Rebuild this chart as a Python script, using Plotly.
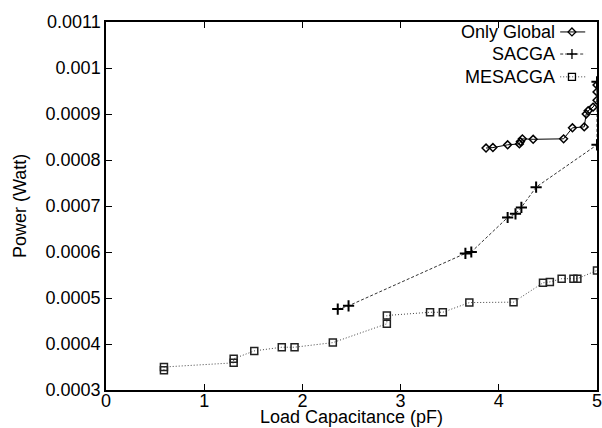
import plotly.graph_objects as go

# Only Global
og_x = [3.87, 3.94, 4.09, 4.21, 4.22, 4.24, 4.35, 4.66, 4.75, 4.87, 4.89, 4.91, 4.96, 5.0, 5.0, 5.0]
og_y = [0.000826, 0.000827, 0.000833, 0.000835, 0.00084, 0.000846, 0.000845, 0.000846,
        0.00087, 0.000872, 0.0009, 0.000907, 0.000915, 0.00093, 0.000948, 0.000963]

# SACGA
sa_x = [2.36, 2.47, 3.66, 3.72, 4.09, 4.17, 4.23, 4.38, 5.0, 5.0]
sa_y = [0.000476, 0.000483, 0.000597, 0.0006, 0.000675, 0.000683, 0.000697, 0.000741,
        0.000833, 0.00097]

# MESACGA
me_x = [0.59, 0.59, 1.30, 1.30, 1.51, 1.79, 1.92, 2.31, 2.86, 2.86, 3.30, 3.43, 3.70,
        4.15, 4.45, 4.52, 4.64, 4.76, 4.80, 5.0]
me_y = [0.000343, 0.00035, 0.000359, 0.000368, 0.000385, 0.000393, 0.000393, 0.000403,
        0.000444, 0.000462, 0.000469, 0.000469, 0.00049, 0.000491, 0.000533, 0.000535,
        0.000542, 0.000542, 0.000542, 0.00056]

x_ticks = [0, 1, 2, 3, 4, 5]
x_labels = ["0", "1", "2", "3", "4", "5"]
y_ticks = [0.0003, 0.0004, 0.0005, 0.0006, 0.0007, 0.0008, 0.0009, 0.001, 0.0011]
y_labels = ["0.0003", "0.0004", "0.0005", "0.0006", "0.0007", "0.0008", "0.0009", "0.001", "0.0011"]

names = ["Only Global", "SACGA", "MESACGA"]
FONT = "Liberation Sans, Arial, Helvetica, sans-serif"

fig = go.Figure()
fig.add_trace(go.Scatter(x=og_x, y=og_y, mode="lines+markers", name=names[0],
                         line=dict(color="black", width=1),
                         marker=dict(symbol="diamond-open", size=6, color="black",
                                     line=dict(width=1.5, color="black"))))
fig.add_trace(go.Scatter(x=sa_x, y=sa_y, mode="lines+markers", name=names[1],
                         line=dict(color="#333333", width=1, dash="3px,2px"),
                         marker=dict(symbol="cross-thin-open", size=8, color="black",
                                     line=dict(width=2, color="black"))))
fig.add_trace(go.Scatter(x=me_x, y=me_y, mode="lines+markers", name=names[2],
                         line=dict(color="#444444", width=1, dash="1px,2px"),
                         marker=dict(symbol="square-open", size=7, color="#222222",
                                     line=dict(width=1.5, color="#222222"))))

# legend samples on hidden overlay axes (0..1 coordinates over the plot area)
leg_y = [0.973, 0.913, 0.851]
styles = [
    (dict(color="black", width=1), dict(symbol="diamond-open", size=6, color="black", line=dict(width=1.3, color="black"))),
    (dict(color="#333333", width=1, dash="3px,2px"), dict(symbol="cross-thin-open", size=7, color="black", line=dict(width=1.3, color="black"))),
    (dict(color="#444444", width=1, dash="1px,2px"), dict(symbol="square-open", size=7, color="black", line=dict(width=1.3, color="black"))),
]
for i, (ln, mk) in enumerate(styles):
    fig.add_trace(go.Scatter(x=[0.925, 0.976], y=[leg_y[i]] * 2, mode="lines", line=ln,
                             xaxis="x2", yaxis="y2", showlegend=False, hoverinfo="skip"))
    fig.add_trace(go.Scatter(x=[0.949], y=[leg_y[i]], mode="markers", marker=mk,
                             xaxis="x2", yaxis="y2", showlegend=False, hoverinfo="skip"))
    fig.add_annotation(x=0.919, y=leg_y[i], xref="x2", yref="y2", text=names[i],
                       showarrow=False, xanchor="right", yanchor="middle",
                       font=dict(family=FONT, size=18, color="black"))

axis_common = dict(showgrid=False, zeroline=False, showline=True, linecolor="black",
                   linewidth=1.5, mirror="ticks", ticks="inside", ticklen=6,
                   tickcolor="black", tickfont=dict(family=FONT, size=18, color="black"))

fig.update_layout(
    width=602, height=428,
    margin=dict(l=106, r=5, t=22, b=38, autoexpand=False),
    paper_bgcolor="white", plot_bgcolor="white",
    showlegend=False,
    xaxis=dict(range=[0, 5], tickvals=x_ticks, ticktext=x_labels[:-1] + [""],
               automargin=False, ticklabelstandoff=-6, **axis_common),
    yaxis=dict(range=[0.0003, 0.0011], tickvals=y_ticks, ticktext=y_labels,
               automargin=False, **axis_common),
    xaxis2=dict(range=[0, 1], overlaying="x", visible=False),
    yaxis2=dict(range=[0, 1], overlaying="y", visible=False),
)
# last x tick label sits on the right edge (partly clipped in the reference)
fig.add_annotation(x=x_ticks[-1], y=0, xref="x", yref="paper", text=x_labels[-1],
                   showarrow=False, xanchor="center", yanchor="top", yshift=1,
                   font=dict(family=FONT, size=18, color="black"))
fig.add_annotation(x=0.5, y=-0.04, xref="paper", yref="paper", text="Load Capacitance (pF)",
                   showarrow=False, xanchor="center", yanchor="top",
                   font=dict(family=FONT, size=18, color="black"))
fig.add_annotation(x=-0.175, y=0.5, xref="paper", yref="paper", text="Power (Watt)",
                   showarrow=False, textangle=-90, xanchor="center", yanchor="middle",
                   font=dict(family=FONT, size=18, color="black"))

fig.write_html("out.html", config={"displayModeBar": False},
               post_script="document.body.style.margin='0';document.body.style.overflow='hidden';")
